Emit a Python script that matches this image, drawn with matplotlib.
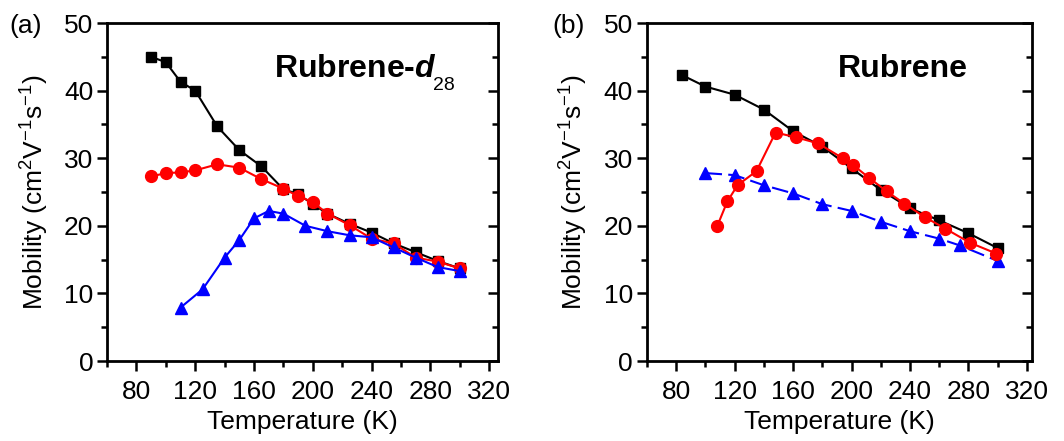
import matplotlib
matplotlib.use("Agg")
from matplotlib import pyplot as plt
from matplotlib.ticker import MultipleLocator

plt.rcParams['font.family'] = ['Liberation Sans', 'DejaVu Sans']
plt.rcParams['mathtext.fontset'] = 'custom'
plt.rcParams['mathtext.rm'] = 'Liberation Sans'
plt.rcParams['mathtext.it'] = 'Liberation Sans:italic:bold'
plt.rcParams['mathtext.bf'] = 'Liberation Sans:bold'

# panel (a): Rubrene-d28
a_sq_t = [90, 100, 110, 120, 135, 150, 165, 180, 190, 200, 210, 225, 240, 255, 270, 285, 300]
a_sq_mu = [45.0, 44.2, 41.3, 40.0, 34.7, 31.2, 28.8, 25.4, 24.7, 23.2, 21.8, 20.3, 19.0, 17.4, 16.1, 14.8, 13.7]
a_ci_t = [90, 100, 110, 120, 135, 150, 165, 180, 190, 200, 210, 225, 240, 255, 270, 285, 300]
a_ci_mu = [27.3, 27.8, 27.9, 28.2, 29.1, 28.6, 26.9, 25.5, 24.4, 23.5, 21.8, 20.1, 18.1, 17.4, 15.3, 14.7, 13.7]
a_tr_t = [110, 125, 140, 150, 160, 170, 180, 195, 210, 225, 240, 255, 270, 285, 300]
a_tr_mu = [7.9, 10.6, 15.3, 17.9, 21.1, 22.2, 21.8, 20.0, 19.2, 18.6, 18.3, 16.8, 15.3, 13.9, 13.3]

# panel (b): Rubrene
b_sq_t = [84, 100, 120, 140, 160, 180, 200, 220, 240, 260, 280, 300]
b_sq_mu = [42.3, 40.6, 39.4, 37.2, 34.0, 31.7, 28.5, 25.3, 22.6, 20.8, 18.9, 16.7]
b_ci_t = [108, 115, 122, 135, 148, 162, 177, 194, 201, 212, 224, 236, 250, 264, 281, 299]
b_ci_mu = [19.9, 23.6, 26.0, 28.1, 33.8, 33.1, 32.2, 30.0, 29.0, 27.1, 25.1, 23.3, 21.3, 19.6, 17.5, 15.9]
b_tr_t = [100, 120, 140, 160, 180, 200, 220, 240, 260, 274, 300]
b_tr_mu = [27.8, 27.5, 26.0, 24.8, 23.2, 22.2, 20.6, 19.2, 18.1, 17.1, 14.8]

fig = plt.figure(figsize=(10.64, 4.41), dpi=100)
ax_a = fig.add_axes([0.1006, 0.1814, 0.3674, 0.7664])
ax_b = fig.add_axes([0.608, 0.1814, 0.362, 0.7664])


def style_axes(ax, xmax):
    ax.set_xlim(60, xmax)
    ax.set_ylim(0, 50)
    ax.xaxis.set_major_locator(MultipleLocator(40))
    ax.xaxis.set_minor_locator(MultipleLocator(20))
    ax.yaxis.set_major_locator(MultipleLocator(10))
    ax.yaxis.set_minor_locator(MultipleLocator(5))
    for s in ax.spines.values():
        s.set_linewidth(2.0)
    ax.tick_params(which='both', direction='out', width=1.8, labelsize=19,
                   right=True, top=False)
    ax.tick_params(axis='x', which='both', pad=7)
    ax.tick_params(axis='y', which='both', pad=3)
    ax.tick_params(which='major', length=7)
    ax.tick_params(which='minor', length=4)
    # right side ticks point inward
    for t in ax.yaxis.get_major_ticks() + ax.yaxis.get_minor_ticks():
        t.tick2line.set_marker(matplotlib.lines.TICKLEFT)
    ax.set_xlabel('Temperature (K)', fontsize=19, labelpad=4)
    ax.set_ylabel('Mobility (cm$^{2}$V$^{-1}$s$^{-1}$)', fontsize=19, labelpad=9.5)


ax_a.plot(a_sq_t, a_sq_mu, '-s', color='black', lw=1.5, ms=7.5, zorder=3)
ax_a.plot(a_ci_t, a_ci_mu, '-o', color='red', lw=1.5, ms=8.5, zorder=4)
ax_a.plot(a_tr_t, a_tr_mu, '-^', color='blue', lw=1.5, ms=8.5, zorder=5)
style_axes(ax_a, 326)
title_a = ax_a.text(274, 441 - 77, 'Rubrene-$\\mathit{d}$', transform=None,
                    fontsize=23, fontweight='bold', va='baseline')
ax_a.annotate('28', xy=(1, 0), xycoords=title_a, xytext=(-2.5, -4.5),
              textcoords='offset points', fontsize=14, va='baseline')
fig.text(0.009, 0.94, '(a)', fontsize=19, va='center')

ax_b.plot(b_sq_t, b_sq_mu, '-s', color='black', lw=1.5, ms=7.5, zorder=3)
ax_b.plot(b_tr_t, b_tr_mu, '^', color='blue', ms=8.5, zorder=4, ls=(0, (8, 3)), lw=1.5)
ax_b.plot(b_ci_t, b_ci_mu, '-o', color='red', lw=1.5, ms=8.5, zorder=5)
style_axes(ax_b, 323.5)
ax_b.text(838, 441 - 77, 'Rubrene', transform=None,
          fontsize=23, fontweight='bold', va='baseline')
fig.text(0.519, 0.94, '(b)', fontsize=19, va='center')

fig.savefig('out.png', dpi=100)
